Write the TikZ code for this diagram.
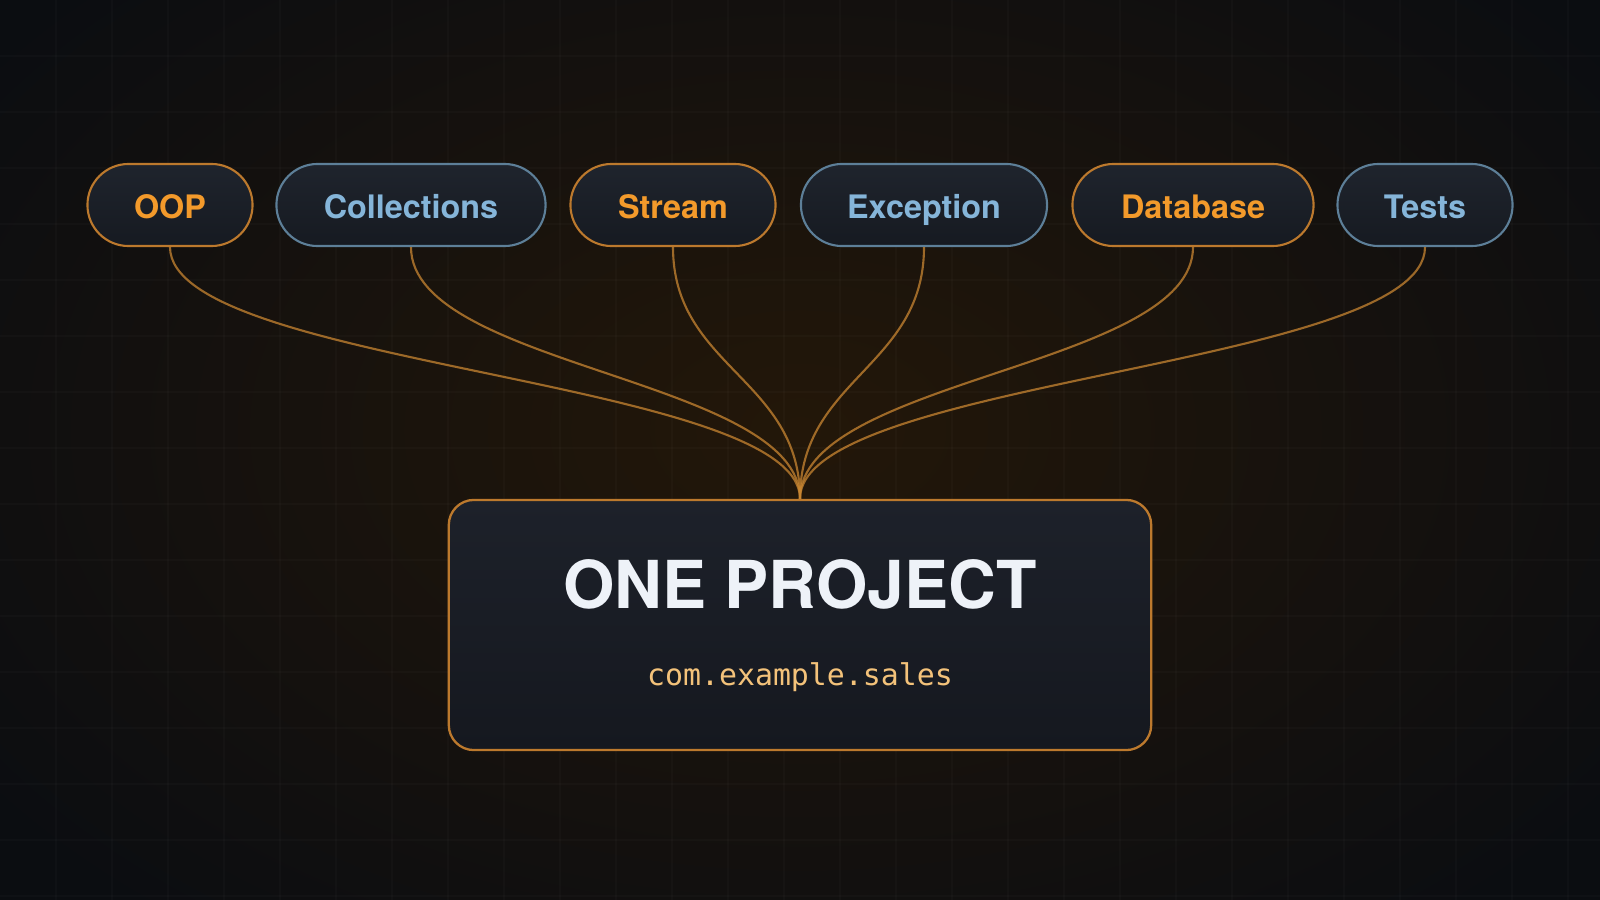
\documentclass[tikz,border=0pt]{standalone}
\usepackage{fontspec}
\setmainfont{TeX Gyre Heros}
\setmonofont{DejaVu Sans Mono}
\usetikzlibrary{positioning}

\definecolor{bgdark}{HTML}{0B0D11}
\definecolor{glow}{HTML}{231709}
\definecolor{pilltop}{HTML}{1F242D}
\definecolor{pillbot}{HTML}{161A21}
\definecolor{boxtop}{HTML}{1D212A}
\definecolor{boxbot}{HTML}{15181F}
\definecolor{javaorange}{HTML}{F39A2B}
\definecolor{javablue}{HTML}{85B5D9}
\definecolor{edgeorange}{HTML}{BC792D}
\definecolor{edgeblue}{HTML}{5D7F98}
\definecolor{linkorange}{HTML}{C98632}
\definecolor{titlewhite}{HTML}{EEF2F8}
\definecolor{pkgyellow}{HTML}{F3C27A}

\tikzset{
  pill/.style={draw, line width=0.6pt, rounded corners=0.41cm, minimum height=0.82cm,
    inner sep=0pt, text height=0.27cm, text depth=0cm, top color=pilltop, bottom color=pillbot,
    font=\fontsize{9.2}{11}\selectfont\bfseries},
  pillorange/.style={pill, draw=edgeorange, text=javaorange},
  pillblue/.style={pill, draw=edgeblue, text=javablue},
  projectbox/.style={draw=edgeorange, line width=0.65pt, rounded corners=0.25cm,
    minimum width=7.02cm, minimum height=2.5cm, top color=boxtop, bottom color=boxbot},
  link/.style={draw=linkorange, draw opacity=0.75, line width=0.6pt},
}

\begin{document}
\begin{tikzpicture}[x=0.01cm, y=-0.01cm]
    \useasboundingbox (0, 0) rectangle (1600, 900);

    % background, glow and grid
    \begin{scope}
      \clip (0, 0) rectangle (1600, 900);
      \fill[bgdark] (0, 0) rectangle (1600, 900);
      \shade[inner color=glow, outer color=bgdark] (800, 430) ellipse [x radius=10cm, y radius=6.4cm];
      \foreach \gx in {56, 112, ..., 1568}
        \draw[white, opacity=0.02, line width=0.3pt] (\gx, 0) -- (\gx, 900);
      \foreach \gy in {56, 112, ..., 896}
        \draw[white, opacity=0.02, line width=0.3pt] (0, \gy) -- (1600, \gy);
    \end{scope}

    % topics
    \node[pillorange, minimum width=1.65cm] (oop) at (170, 205) {OOP};
    \node[pillblue, minimum width=2.69cm] (coll) at (411, 205) {Collections};
    \node[pillorange, minimum width=2.05cm] (stream) at (673, 205) {Stream};
    \node[pillblue, minimum width=2.46cm] (exc) at (924, 205) {Exception};
    \node[pillorange, minimum width=2.41cm] (db) at (1193, 205) {Database};
    \node[pillblue, minimum width=1.75cm] (tests) at (1425, 205) {Tests};

    % project
    \node[projectbox] (project) at (800, 625) {};
    \node[anchor=base, text=titlewhite, font=\fontsize{18.8}{22}\selectfont\bfseries] (title) at (800, 608) {ONE PROJECT};
    \node[anchor=base, text=pkgyellow, font=\ttfamily\fontsize{8.5}{10}\selectfont] (pkg) at (800, 685) {com.example.sales};

    \foreach \n in {oop, coll, stream, exc, db, tests}
      \draw[link] (\n.south) .. controls +(0, 120) and +(0, -120) .. (project.north);
  \end{tikzpicture}
\end{document}
